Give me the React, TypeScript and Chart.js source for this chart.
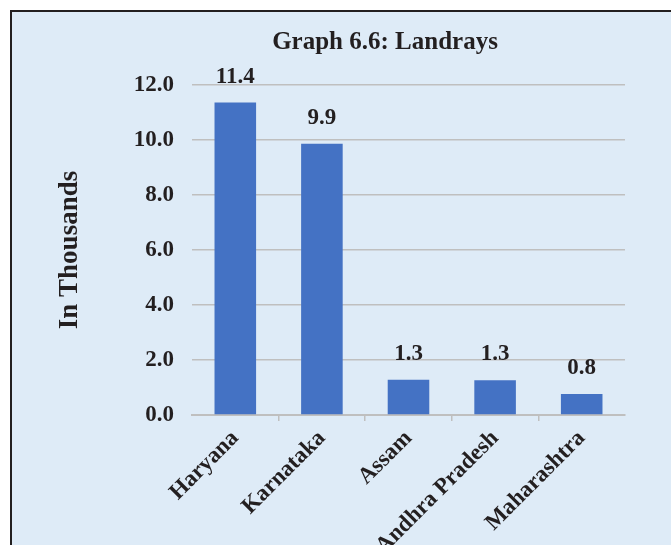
import React, { useEffect, useRef } from "react";
import { Chart, registerables } from "chart.js";

Chart.register(...registerables);

const categories = ["Haryana", "Karnataka", "Assam", "Andhra Pradesh", "Maharashtra"];
const values = [11.36, 9.86, 1.28, 1.26, 0.76];
const valueLabels = ["11.4", "9.9", "1.3", "1.3", "0.8"];
const yMin = 0;
const yMax = 12;
const yStep = 2;
const chartTitle = "Graph 6.6: Landrays";
const yAxisTitle = "In Thousands";

const FONT = '"Liberation Serif", "Times New Roman", serif';
const TEXT = "#231F20";
const GRID = "#BFBFBF";
const CLEAR = "rgba(0,0,0,0)";

const barValueLabels = {
  id: "barValueLabels",
  afterDatasetsDraw(chart: any) {
    const ctx = chart.ctx;
    const meta = chart.getDatasetMeta(0);
    ctx.save();
    ctx.font = `bold 23px ${FONT}`;
    ctx.fillStyle = TEXT;
    ctx.textAlign = "center";
    ctx.textBaseline = "alphabetic";
    meta.data.forEach((bar: any, i: number) => {
      ctx.fillText(valueLabels[i], bar.x, bar.y - 20);
    });
    ctx.restore();
  },
};

const innerTick = (ctx: any) => (ctx.type === "tick" && ctx.index > 0 ? GRID : CLEAR);

export default function App() {
  const canvasRef = useRef<HTMLCanvasElement | null>(null);

  useEffect(() => {
    const canvas = canvasRef.current;
    if (!canvas) return;
    const chart = new Chart(canvas, {
      type: "bar",
      data: {
        labels: categories,
        datasets: [
          {
            data: values,
            backgroundColor: "#4472C4",
            borderWidth: 0,
            barPercentage: 0.48,
            categoryPercentage: 1,
            yAxisID: "y",
          },
        ],
      },
      options: {
        responsive: false,
        animation: false,
        devicePixelRatio: 1,
        layout: { padding: 0 },
        plugins: {
          legend: { display: false },
          tooltip: { enabled: false },
          title: {
            display: true,
            text: chartTitle,
            color: TEXT,
            font: { family: FONT, size: 25, weight: "bold" },
            padding: { top: 16, bottom: 27 },
          },
        },
        scales: {
          x: {
            afterFit: (scale: any) => {
              scale.height = 130;
            },
            grid: {
              display: true,
              offset: true,
              drawOnChartArea: false,
              drawTicks: true,
              tickLength: 6,
              lineWidth: 1.5,
              color: innerTick,
              tickColor: innerTick,
            },
            border: { display: true, color: GRID, width: 2 },
            ticks: {
              autoSkip: false,
              minRotation: 45,
              maxRotation: 45,
              padding: 4,
              color: TEXT,
              font: { family: FONT, size: 23, weight: "bold" },
            },
          },
          y: {
            position: "left",
            min: yMin,
            max: yMax,
            afterFit: (scale: any) => {
              scale.width = 180;
            },
            grid: {
              color: GRID,
              lineWidth: 1.5,
              drawTicks: false,
            },
            border: { display: false },
            ticks: {
              stepSize: yStep,
              padding: 18,
              color: TEXT,
              font: { family: FONT, size: 23, weight: "bold" },
              callback: (v: any) => Number(v).toFixed(1),
            },
            title: {
              display: true,
              text: yAxisTitle,
              color: TEXT,
              font: { family: FONT, size: 27, weight: "bold" },
              padding: { top: 42, bottom: 0 },
            },
          },
          spacer: {
            type: "linear",
            position: "right",
            display: true,
            afterFit: (scale: any) => {
              scale.width = 133;
            },
            grid: { display: false, drawOnChartArea: false },
            border: { display: false },
            ticks: { display: false },
          },
        },
      },
      plugins: [barValueLabels],
    });
    return () => chart.destroy();
  }, []);

  return (
    <div
      style={{
        position: "absolute",
        left: 10,
        top: 10,
        width: 661,
        height: 535,
        boxSizing: "border-box",
        borderTop: "2px solid #231F20",
        borderLeft: "2px solid #231F20",
        background: "#DEEBF7",
        overflow: "hidden",
      }}
    >
      <canvas
        ref={canvasRef}
        width={746}
        height={533}
        style={{ position: "absolute", left: 0, top: 0, width: 746, height: 533 }}
      />
    </div>
  );
}
